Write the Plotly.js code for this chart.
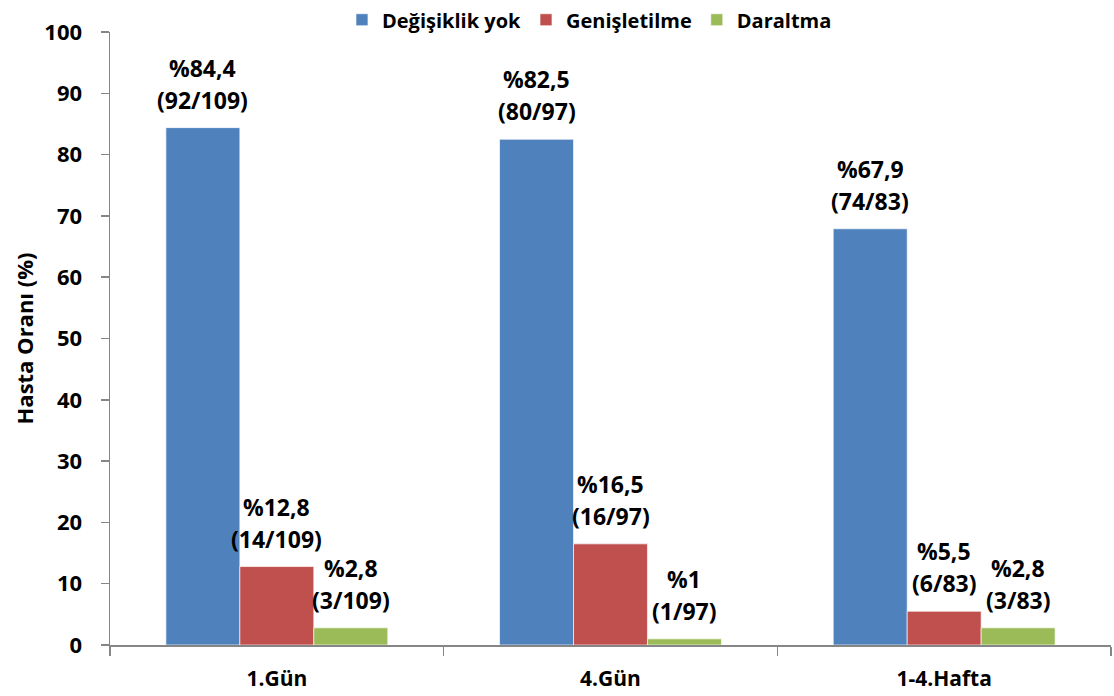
<!DOCTYPE html>
<html>
<head>
<meta charset="utf-8">
<script src="https://cdn.plot.ly/plotly-3.0.1.min.js"></script>
<style>
  html, body { margin: 0; padding: 0; background: #fff; }
  #chart { width: 1114px; height: 696px; }
</style>
</head>
<body>
<div id="chart"></div>
<script>
// Time points
const categories = ['1.Gün', '4.Gün', '1-4.Hafta'];

// Percent of patients per outcome
const noChange = [84.4, 82.5, 67.9];
const widened = [12.8, 16.5, 5.5];
const narrowed = [2.8, 1, 2.8];

// Patient counts behind each percentage
const noChangeN = [92, 80, 74];
const widenedN = [14, 16, 6];
const narrowedN = [3, 1, 3];
const totals = [109, 97, 83];

const seriesNames = ['Değişiklik yok', 'Genişletilme', 'Daraltma'];
const colors = ['#4F81BD', '#C0504D', '#9BBB59'];

const FONT = '"Open Sans", "Liberation Sans", sans-serif';
const BARGAP = 0.335;

const series = [
  [noChange, noChangeN],
  [widened, widenedN],
  [narrowed, narrowedN]
];

const traces = series.map(([vals], k) => ({
  type: 'bar',
  name: seriesNames[k],
  x: categories,
  y: vals,
  marker: { color: colors[k], line: { width: 0.8, color: 'rgba(255,255,255,0.8)' } },
  hoverinfo: 'x+y+name'
}));

// Two-line value labels above each bar; horizontal position follows the
// bar's slot inside its category group.
const slot = (1 - BARGAP) / series.length;
const annotations = [];
series.forEach(([vals, counts], k) => {
  vals.forEach((v, i) => {
    const x = i + (k - (series.length - 1) / 2) * slot;
    const base = {
      xref: 'x', yref: 'y', x: x, y: v,
      showarrow: false, yanchor: 'middle', xanchor: 'center',
      font: { family: FONT, size: 23, color: '#000', weight: 'bold' }
    };
    annotations.push(Object.assign({}, base, {
      text: '%' + String(v).replace('.', ','), yshift: 60
    }));
    annotations.push(Object.assign({}, base, {
      text: '(' + counts[i] + '/' + totals[i] + ')', yshift: 28
    }));
  });
});

const layout = {
  width: 1114,
  height: 696,
  margin: { l: 110, r: 3, t: 32, b: 51, autoexpand: false },
  paper_bgcolor: '#fff',
  plot_bgcolor: '#fff',
  barmode: 'group',
  bargap: BARGAP,
  bargroupgap: 0,
  font: { family: FONT, size: 20, color: '#000', weight: 'bold' },
  showlegend: true,
  legend: {
    orientation: 'h',
    x: 0.479, xanchor: 'center',
    y: 1.02, yanchor: 'middle',
    font: { family: FONT, size: 20, color: '#000', weight: 'bold' },
    itemwidth: 30,
    tracegroupgap: 0
  },
  annotations: annotations,
  xaxis: {
    type: 'category',
    showline: true,
    linecolor: '#868686',
    linewidth: 1.5,
    ticks: 'outside',
    tickson: 'boundaries',
    ticklen: 9,
    tickcolor: '#868686',
    tickwidth: 1.5,
    showgrid: false,
    zeroline: false,
    tickfont: { family: FONT, size: 21, color: '#000', weight: 'bold' },
    ticklabelstandoff: 14
  },
  yaxis: {
    range: [0, 100],
    dtick: 10,
    showline: true,
    linecolor: '#868686',
    linewidth: 1.5,
    ticks: 'outside',
    ticklen: 8,
    tickcolor: '#868686',
    tickwidth: 1.5,
    showgrid: false,
    zeroline: false,
    tickfont: { family: FONT, size: 22, color: '#000', weight: 'bold' },
    ticklabelstandoff: 14,
    title: {
      text: 'Hasta Oranı (%)',
      font: { family: FONT, size: 22, color: '#000', weight: 'bold' },
      standoff: 4
    }
  }
};

Plotly.newPlot('chart', traces, layout, { displayModeBar: false, staticPlot: true });
</script>
</body>
</html>
